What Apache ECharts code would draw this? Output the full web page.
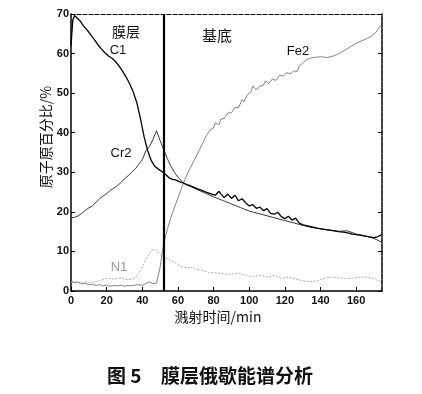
<!DOCTYPE html>
<html><head><meta charset="utf-8">
<script src="https://cdn.jsdelivr.net/npm/echarts@6/dist/echarts.min.js"></script>
<style>html,body{margin:0;padding:0;background:#fff}#c{width:422px;height:394px}</style>
</head><body><div id="c"></div>
<script>
const xTicks = [0, 20, 40, 60, 80, 100, 120, 140, 160];
const yTicks = [0, 10, 20, 30, 40, 50, 60, 70];
const boundaryX = 52;

const c1 = [[0,62],[1,68.5],[2,69.6],[3,69.2],[5,68.3],[7,67],[9,66],[11,64.8],[13,63.6],[15,62.3],[17,61.2],[19,60.2],[21,59.4],[23,58.8],[25,58],[27,56.8],[29,55.5],[31,54],[33,52.3],[35,50.2],[37,47.5],[39,43.5],[41,39],[43,35.5],[45,33],[47,31.5],[49,30.8],[51,30.2],[53,29.5],[55,28.6],[57,28.2],[59,28],[61,27.6],[63,27.3],[65,26.9],[67,26.6],[69,26.2],[71,25.8],[73,25.5],[75,25.1],[77,24.8],[79,24.5],[81,24.2],[83,25.2],[84,24.6],[86,23.6],[88,24.5],[90,23.4],[92,24.2],[94,22.8],[96,23.3],[98,22.3],[100,21.5],[102,21.8],[104,20.9],[106,21.2],[108,20.3],[110,20.8],[112,19.6],[114,19.4],[116,19.9],[118,18.8],[120,18.3],[122,18.9],[124,17.9],[126,18.4],[128,17.2],[130,16.7],[134,16.3],[138,15.9],[142,15.6],[146,15.3],[150,15],[154,14.8],[158,14.4],[162,14.1],[166,13.8],[170,13.5],[172,13.7],[174,14.2]];

const cr2 = [[0,18.5],[2,18.6],[4,19],[6,19.6],[8,20.4],[10,21],[12,21.5],[14,22.4],[16,23.3],[18,24],[20,24.6],[22,25.4],[24,26],[26,26.6],[28,27.4],[30,28.3],[32,29.1],[34,30],[36,30.8],[38,32],[40,33.2],[42,35.4],[44,36.5],[46,38.3],[48,40.5],[49,40],[50,38],[52,35.8],[54,33.5],[56,31.6],[58,30],[60,28.8],[63,27.3],[66,26.6],[70,25.8],[75,24.8],[80,23.8],[85,22.9],[90,22],[95,21.1],[100,20.2],[105,19.6],[110,19],[115,18.4],[120,17.8],[125,17.2],[130,16.6],[135,16.1],[140,15.7],[145,15.4],[150,15.1],[155,15.2],[160,14.4],[165,13.9],[170,13.3],[174,12.4]];

const fe2 = [[0,2.4],[2,2.2],[4,2.3],[6,1.8],[8,1.9],[10,1.6],[12,1.7],[14,1.4],[16,1.6],[18,1.3],[20,1.5],[22,1.2],[24,1.4],[26,1.3],[28,1.5],[30,1.2],[32,1.4],[34,1.3],[36,1.5],[38,1.6],[40,1.4],[42,1.9],[44,2.3],[46,1.8],[48,2],[50,6],[52,12],[54,15.5],[56,18.5],[58,21],[60,23.5],[62,26],[64,28.3],[66,30.3],[68,32],[70,33.8],[72,35.6],[74,37.5],[76,39.3],[78,40.7],[80,41.2],[81,42.5],[83,42],[84,43.4],[86,43.6],[88,45],[90,45],[92,46.4],[94,46.3],[96,48.4],[97,47.8],[99,49.6],[101,50.3],[102,51.8],[104,50.8],[106,51.8],[108,52],[109,53.1],[111,52.4],[113,53.6],[115,53.2],[117,54.5],[119,54.3],[121,55.2],[123,54.9],[125,55.6],[127,55.5],[128,56.8],[130,57.6],[132,58.4],[134,58.8],[136,59],[140,59.2],[144,59],[148,59.5],[152,60.4],[156,61.5],[160,62.6],[164,63.4],[168,64.2],[171,65.3],[173,66.7],[174,67]];

const n1 = [[0,2.2],[4,2],[8,2.3],[12,2.1],[16,2.6],[20,3.2],[24,3],[28,3.3],[32,2.8],[36,3.3],[38,4.5],[40,6],[42,8],[44,9.4],[46,10.6],[47,10.8],[48,10.3],[50,9.3],[52,8.6],[54,8.1],[56,7.7],[58,7.3],[60,6.6],[62,6.2],[65,5.8],[68,6],[70,5.4],[74,5.2],[78,4.6],[82,4.6],[86,4.3],[90,4.2],[94,4.5],[98,4],[102,3.6],[106,4],[110,3.5],[114,3.9],[118,3.2],[122,3.5],[126,3],[130,2.6],[134,2.3],[138,2.6],[142,3.2],[146,3.5],[150,3.4],[154,3.1],[158,3.3],[162,3.5],[166,3.5],[170,3.1],[174,2.3]];

const chart = echarts.init(document.getElementById('c'), null, {renderer: 'canvas'});
const tickFont = {fontFamily: 'Liberation Sans, Arial, sans-serif', fontWeight: 'bold', fontSize: 11, color: '#111'};
chart.setOption({
  animation: false,
  backgroundColor: '#fff',
  grid: {left: 71, right: 40, top: 14, bottom: 103},
  xAxis: [{
    type: 'value', min: 0, max: 174.5, interval: 20,
    axisLine: {onZero: false, lineStyle: {color: '#000', width: 1.5}},
    axisTick: {inside: true, length: 4, lineStyle: {color: '#000'}},
    axisLabel: Object.assign({margin: 4, showMaxLabel: false, formatter: v => xTicks.includes(v) ? String(v) : ''}, tickFont),
    splitLine: {show: false}
  }, {
    type: 'value', position: 'top', min: 0, max: 174.5,
    axisLine: {show: true, onZero: false, lineStyle: {color: '#000', width: 1.2, type: [4, 2]}},
    axisTick: {show: false}, axisLabel: {show: false}, splitLine: {show: false}
  }],
  yAxis: [{
    type: 'value', min: 0, max: 70, interval: 10,
    axisLine: {show: true, onZero: false, lineStyle: {color: '#000', width: 1.5}},
    axisTick: {show: true, inside: true, length: 4, lineStyle: {color: '#000'}},
    axisLabel: Object.assign({margin: 2, formatter: v => yTicks.includes(v) ? String(v) : ''}, tickFont),
    splitLine: {show: false}
  }, {
    type: 'value', position: 'right', min: 0, max: 70, interval: 10,
    axisLine: {show: true, onZero: false, lineStyle: {color: '#000', width: 1.5, type: [5, 1]}},
    axisTick: {show: true, inside: true, length: 4, lineStyle: {color: '#000'}},
    axisLabel: {show: false}, splitLine: {show: false}
  }],
  series: [
    {name: 'N1', type: 'line', data: n1, showSymbol: false, symbol: 'none', lineStyle: {color: '#aaa', width: 1, type: [2, 1.5]}, z: 1},
    {name: 'Fe2', type: 'line', data: fe2, showSymbol: false, symbol: 'none', lineStyle: {color: '#666', width: 0.8}, z: 2},
    {name: 'Cr2', type: 'line', data: cr2, showSymbol: false, symbol: 'none', lineStyle: {color: '#222', width: 0.9}, z: 3},
    {name: 'C1', type: 'line', data: c1, showSymbol: false, symbol: 'none', lineStyle: {color: '#000', width: 1.3}, z: 4,
     markLine: {silent: true, symbol: 'none', label: {show: false}, lineStyle: {color: '#000', width: 2.2, type: 'solid'},
       data: [{xAxis: boundaryX}]}}
  ],
  graphic: [
    {type: 'text', x: 46, y: 137, rotation: Math.PI / 2, style: {text: '原子原百分比/%', font: '14px "Noto Sans CJK SC"', fill: '#111', textAlign: 'center', textVerticalAlign: 'middle'}},
    {type: 'text', x: 218, y: 317, style: {text: '溅射时间/min', font: '14px "Noto Sans CJK SC"', fill: '#111', textAlign: 'center', textVerticalAlign: 'middle'}},
    {type: 'text', x: 107, y: 376, style: {text: '图 5', font: 'bold 19px "Noto Sans CJK SC"', fill: '#111', textAlign: 'left', textVerticalAlign: 'middle'}},
    {type: 'text', x: 161, y: 376, style: {text: '膜层俄歇能谱分析', font: 'bold 19px "Noto Sans CJK SC"', fill: '#111', textAlign: 'left', textVerticalAlign: 'middle'}},
    {type: 'text', x: 126, y: 32, style: {text: '膜层', font: '14px "Noto Sans CJK SC"', fill: '#111', textAlign: 'center', textVerticalAlign: 'middle'}},
    {type: 'text', x: 118, y: 50, style: {text: 'C1', font: '13px "Liberation Sans"', fill: '#111', textAlign: 'center', textVerticalAlign: 'middle'}},
    {type: 'text', x: 217, y: 35, style: {text: '基底', font: '15px "Noto Sans CJK SC"', fill: '#111', textAlign: 'center', textVerticalAlign: 'middle'}},
    {type: 'text', x: 298, y: 51, style: {text: 'Fe2', font: '13px "Liberation Sans"', fill: '#111', textAlign: 'center', textVerticalAlign: 'middle'}},
    {type: 'text', x: 121, y: 153, style: {text: 'Cr2', font: '13px "Liberation Sans"', fill: '#111', textAlign: 'center', textVerticalAlign: 'middle'}},
    {type: 'text', x: 119, y: 267, style: {text: 'N1', font: '13px "Liberation Sans"', fill: '#999', textAlign: 'center', textVerticalAlign: 'middle'}}
  ]
});
</script>
</body></html>
